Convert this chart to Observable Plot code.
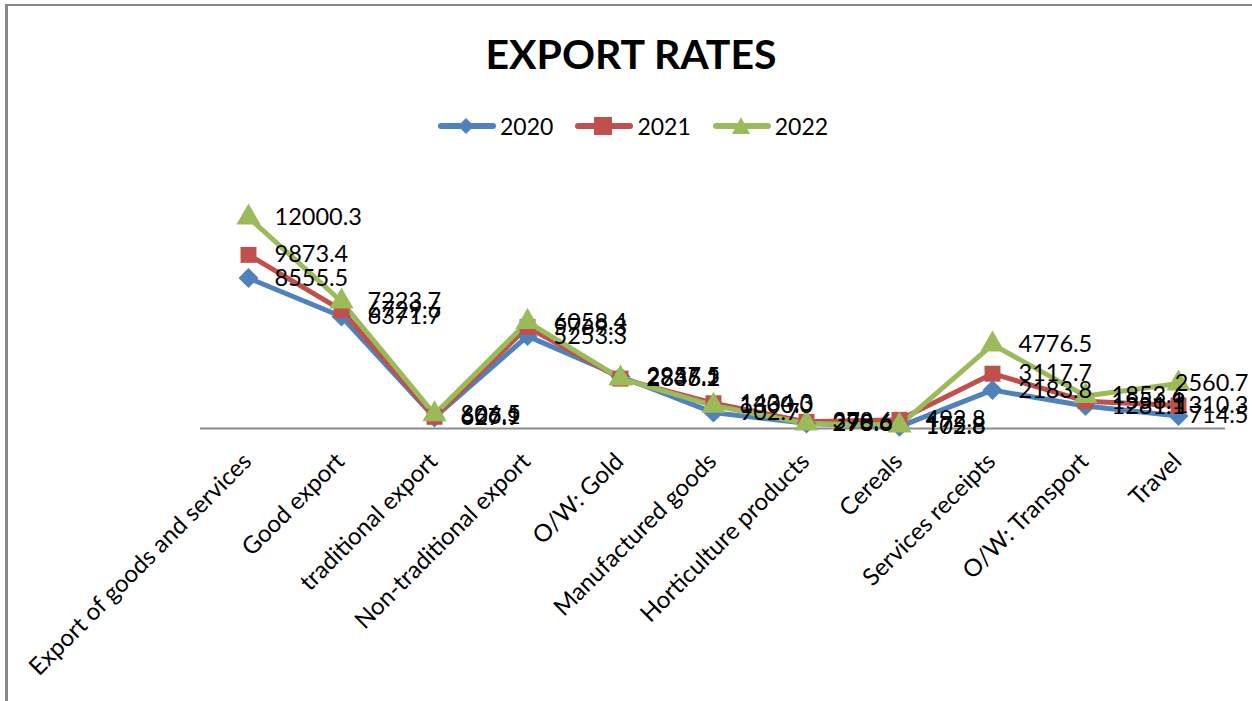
<!DOCTYPE html>
<html>
<head>
<meta charset="utf-8">
<script src="https://cdn.jsdelivr.net/npm/d3@7"></script>
<script src="https://cdn.jsdelivr.net/npm/@observablehq/plot@0.6"></script>
<style>
  html, body { margin: 0; padding: 0; background: #fff; }
  #wrap { position: relative; width: 1252px; height: 701px; overflow: hidden; font-family: Lato, "Open Sans", sans-serif; }
  #frame { position: absolute; left: 5px; top: 4px; width: 1260px; height: 710px; border-top: 2px solid #878787; border-left: 3px solid #878787; box-sizing: border-box; }
  #title { position: absolute; left: 0; width: 1262px; top: 29px; text-align: center; font-weight: 700; font-size: 41px; color: #000; }
  #legend { position: absolute; top: 112px; left: 438px; display: flex; align-items: center; font-size: 23px; color: #000; }
  #legend .item { display: flex; align-items: center; margin-right: 22px; }
  #legend svg { margin-right: 4px; }
  #chart { position: absolute; left: 0; top: 0; }
</style>
</head>
<body>
<div id="wrap">
  <div id="frame"></div>
  <div id="chart"></div>
  <div id="title">EXPORT RATES</div>
  <div id="legend"></div>
</div>
<script>
const categories = ["Export of goods and services","Good export","traditional export","Non-traditional export","O/W: Gold","Manufactured goods","Horticulture products","Cereals","Services receipts","O/W: Transport","Travel"];
const years = ["2020","2021","2022"];
const v2020 = [8555.5, 6371.7, 627.9, 5253.3, 2957.5, 902.7, 290.6, 102.8, 2183.8, 1281.1, 714.5];
const v2021 = [9873.4, 6729.6, 666.1, 5769.3, 2836.2, 1434.3, 378.6, 492.8, 3117.7, 1556.1, 1310.3];
const v2022 = [12000.3, 7223.7, 806.5, 6058.4, 2845.1, 1300.0, 278.6, 175.8, 4776.5, 1853.6, 2560.7];
const colors = ["#4F81BD", "#C0504D", "#9BBB59"];
const symbols = ["diamond2", "square", "triangle"];

const seriesVals = [v2020, v2021, v2022];
const data = [];
years.forEach((yr, s) => categories.forEach((c, i) => data.push({year: yr, cat: c, value: seriesVals[s][i]})));
const lastCat = categories[categories.length - 1];

const chart = Plot.plot({
  width: 1252,
  height: 701,
  marginLeft: 200,
  marginRight: 27,
  marginTop: 217,
  marginBottom: 273,
  style: {fontFamily: "Lato, 'Open Sans', sans-serif", background: "transparent", overflow: "visible"},
  x: {type: "point", domain: categories, padding: 0.5, label: null},
  y: {domain: [0, 12000.3], axis: null},
  color: {domain: years, range: colors},
  symbol: {domain: years, range: symbols},
  marks: [
    Plot.ruleY([0], {stroke: "#8c8c8c", strokeWidth: 2}),
    Plot.axisX({tickSize: 0, tickRotate: -45, tickPadding: 29, fontSize: 24, fill: "#000", label: null, dx: -1}),
    Plot.line(data, {x: "cat", y: "value", z: "year", stroke: "year", strokeWidth: 5}),
    Plot.dot(data, {x: "cat", y: "value", symbol: "year", fill: "year", stroke: "none", r: 9}),
    Plot.text(data.filter(d => d.cat !== lastCat), {x: "cat", y: "value", text: d => d.value.toFixed(1), dx: 26, textAnchor: "start", fontSize: 23.5, fill: "#000"}),
    Plot.text(data.filter(d => d.cat === lastCat), {x: "cat", y: "value", text: d => d.value.toFixed(1), dx: 70, textAnchor: "end", fontSize: 23.5, fill: "#000"})
  ]
});
document.getElementById("chart").appendChild(chart);

const legend = document.getElementById("legend");
years.forEach((yr, s) => {
  const item = document.createElement("div");
  item.className = "item";
  let marker;
  if (s === 0) marker = `<polygon points="28,3 36,11 28,19 20,11" fill="${colors[s]}"/>`;
  else if (s === 1) marker = `<rect x="19" y="2" width="18" height="18" fill="${colors[s]}"/>`;
  else marker = `<polygon points="28,2 37,19 19,19" fill="${colors[s]}"/>`;
  item.innerHTML = `<svg width="58" height="22"><line x1="3" y1="11" x2="55" y2="11" stroke="${colors[s]}" stroke-width="6" stroke-linecap="round"/>${marker}</svg><span>${yr}</span>`;
  legend.appendChild(item);
});
</script>
</body>
</html>
